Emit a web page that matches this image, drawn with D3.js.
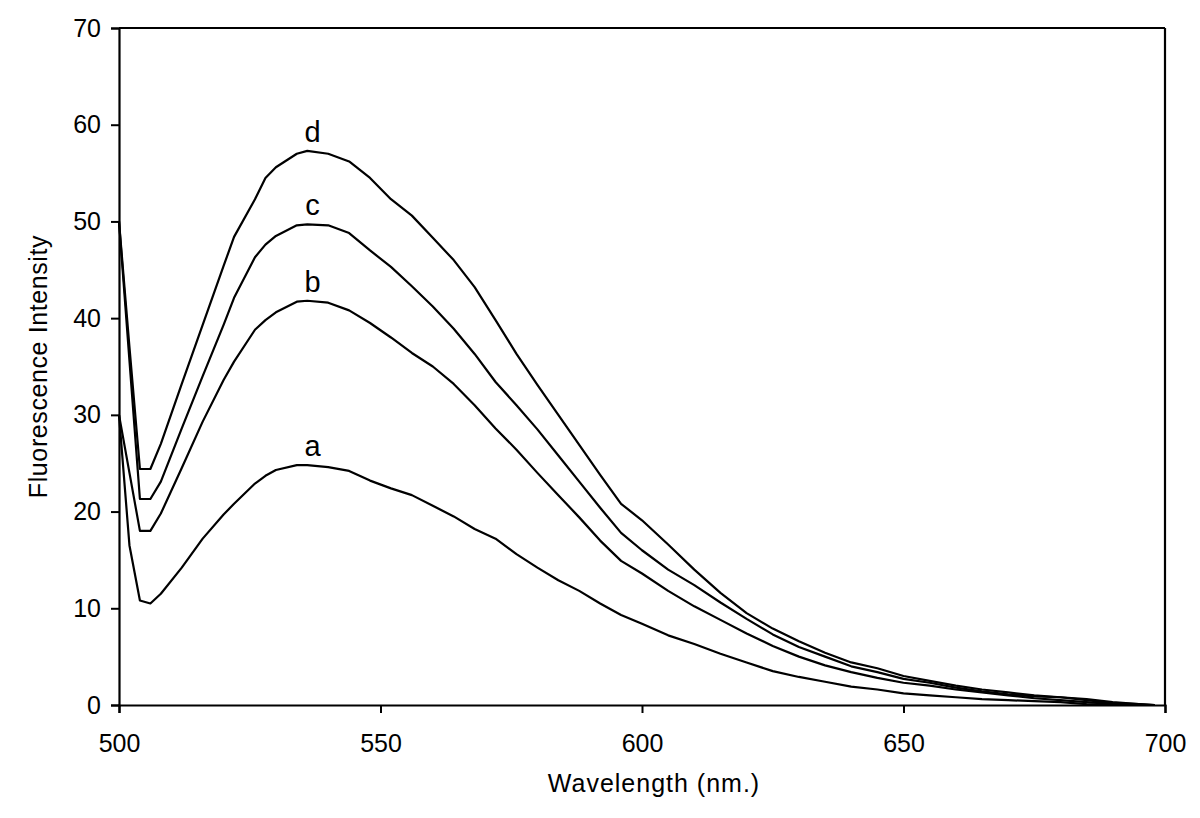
<!DOCTYPE html>
<html>
<head>
<meta charset="utf-8">
<script src="https://cdn.jsdelivr.net/npm/d3@7"></script>
<style>
  html, body { margin: 0; padding: 0; background: #fff; }
  svg { display: block; }
  text { font-family: "Liberation Sans", Arial, sans-serif; fill: #000; }
</style>
</head>
<body>
<svg id="chart" width="1200" height="818"></svg>
<script>
const wavelengths = [500, 502, 504, 506, 508, 512, 516, 520, 522, 526, 528, 530, 534, 536, 540, 544, 548, 552, 556, 560, 564, 568, 572, 576, 580, 584, 588, 592, 596, 600, 605, 610, 615, 620, 625, 630, 635, 640, 645, 650, 655, 660, 665, 670, 675, 680, 685, 690, 695, 698];

const seriesA = [30, 16.5, 10.8, 10.5, 11.5, 14.2, 17.2, 19.7, 20.8, 22.9, 23.7, 24.3, 24.8, 24.8, 24.6, 24.2, 23.2, 22.4, 21.7, 20.6, 19.5, 18.2, 17.2, 15.6, 14.2, 12.9, 11.8, 10.5, 9.3, 8.4, 7.2, 6.3, 5.3, 4.4, 3.5, 2.9, 2.4, 1.9, 1.6, 1.2, 1.0, 0.8, 0.6, 0.5, 0.4, 0.3, 0.1, 0, 0, 0];
const seriesB = [30, 24, 18.0, 18.0, 19.8, 24.5, 29.3, 33.6, 35.5, 38.8, 39.8, 40.6, 41.7, 41.8, 41.6, 40.8, 39.5, 38.0, 36.4, 35.0, 33.2, 31.0, 28.6, 26.4, 24.0, 21.7, 19.4, 17.0, 14.9, 13.6, 11.8, 10.2, 8.8, 7.4, 6.1, 5.0, 4.1, 3.4, 2.8, 2.3, 2.0, 1.6, 1.3, 1.0, 0.7, 0.5, 0.3, 0.1, 0, 0];
const seriesC = [50, 35.6, 21.3, 21.3, 23.1, 28.6, 34.0, 39.3, 42.1, 46.3, 47.6, 48.5, 49.6, 49.7, 49.6, 48.8, 47.0, 45.3, 43.3, 41.2, 38.9, 36.3, 33.4, 31.0, 28.5, 25.8, 23.1, 20.4, 17.8, 16.0, 14.0, 12.4, 10.6, 8.9, 7.3, 6.0, 5.0, 4.0, 3.4, 2.7, 2.3, 1.8, 1.4, 1.1, 0.9, 0.8, 0.5, 0.2, 0.1, 0];
const seriesD = [50, 37, 24.4, 24.4, 27.0, 33.2, 39.3, 45.4, 48.4, 52.3, 54.5, 55.6, 57.0, 57.3, 57.0, 56.2, 54.5, 52.3, 50.6, 48.3, 46.0, 43.2, 39.8, 36.3, 33.1, 30.0, 26.9, 23.8, 20.8, 19.1, 16.6, 14.0, 11.6, 9.5, 7.9, 6.6, 5.4, 4.4, 3.8, 3.0, 2.5, 2.0, 1.6, 1.3, 1.0, 0.8, 0.6, 0.3, 0.1, 0];

const seriesNames = ["a", "b", "c", "d"];
const seriesValues = [seriesA, seriesB, seriesC, seriesD];
const labelAt = [537, 537, 537, 537];

const xTicks = [500, 550, 600, 650, 700];
const yTicks = [0, 10, 20, 30, 40, 50, 60, 70];
const xTitle = "Wavelength (nm.)";
const yTitle = "Fluorescence Intensity";

const svg = d3.select("#chart");
const L = 119, R = 1165, T = 28, B = 705;

const x = d3.scaleLinear().domain([500, 700]).range([L, R]);
const y = d3.scaleLinear().domain([0, 70]).range([B, T]);

// frame top and right
svg.append("line").attr("x1", L).attr("x2", R).attr("y1", T).attr("y2", T)
  .attr("stroke", "#000").attr("stroke-width", 2.2);
svg.append("line").attr("x1", R).attr("x2", R).attr("y1", T).attr("y2", B)
  .attr("stroke", "#000").attr("stroke-width", 2.2);

const xAxis = svg.append("g").attr("transform", `translate(0,${B})`)
  .call(d3.axisBottom(x).tickValues(xTicks).tickSize(8).tickPadding(21).tickFormat(d3.format("d")));
const yAxis = svg.append("g").attr("transform", `translate(${L},0)`)
  .call(d3.axisLeft(y).tickValues(yTicks).tickSize(8).tickPadding(10).tickFormat(d3.format("d")));

[xAxis, yAxis].forEach(g => {
  g.select(".domain").attr("stroke", "#000").attr("stroke-width", 2.2);
  g.selectAll(".tick line").attr("stroke", "#000").attr("stroke-width", 2);
  g.selectAll(".tick text").attr("font-size", 25).attr("font-family", "Liberation Sans, Arial, sans-serif").attr("fill", "#000");
});

const line = d3.line().x(d => x(d[0])).y(d => y(d[1]));

seriesValues.forEach((vals, i) => {
  const pts = wavelengths.map((w, j) => [w, vals[j]]);
  svg.append("path").datum(pts).attr("d", line)
    .attr("fill", "none").attr("stroke", "#000").attr("stroke-width", 2.2)
    .attr("stroke-linejoin", "round");
  const peak = d3.max(vals.slice(3));
  svg.append("text").attr("x", x(labelAt[i])).attr("y", y(peak) - 9)
    .attr("text-anchor", "middle").attr("font-size", 29).text(seriesNames[i]);
});

svg.append("text").attr("x", 654).attr("y", 792)
  .attr("text-anchor", "middle").attr("font-size", 25).attr("letter-spacing", 1).text(xTitle);
svg.append("text").attr("transform", `translate(47,${(T + B) / 2}) rotate(-90)`)
  .attr("text-anchor", "middle").attr("font-size", 25).attr("letter-spacing", 0.6).text(yTitle);
</script>
</body>
</html>
